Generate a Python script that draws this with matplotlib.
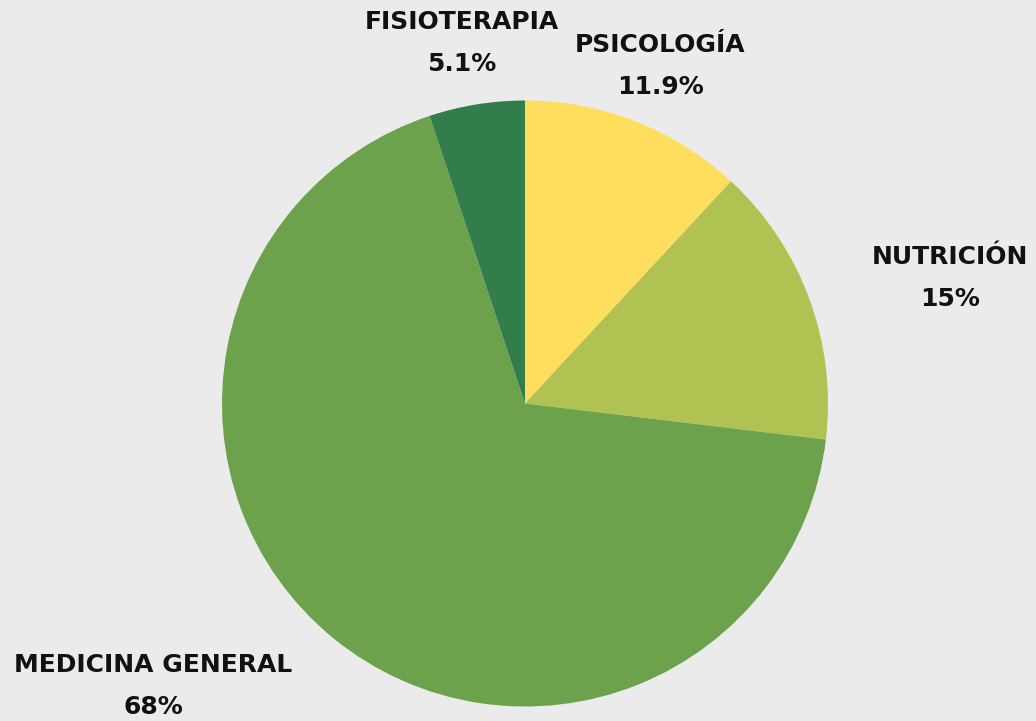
import matplotlib
matplotlib.use("Agg")
import matplotlib.pyplot as plt

# data, clockwise from 12 o'clock
Categories = ["PSICOLOGÍA", "NUTRICIÓN", "MEDICINA GENERAL", "FISIOTERAPIA"]
Values = [11.9, 15, 68, 5.1]
PctLabels = ["11.9%", "15%", "68%", "5.1%"]
Colors = ["#FEDE5C", "#B0C352", "#6BA24B", "#327E4B"]

# label centres in figure pixels (x, y from top)
LabelPos = [(660, 45), (950, 257), (153, 665), (462, 22)]

W, H = 1036, 721
Figure = plt.figure(figsize=(W / 100, H / 100), dpi=100)
Figure.patch.set_facecolor("#EBEBEB")

ax = Figure.add_axes([222 / W, 14 / H, 606 / W, 607 / H])
ax.pie(Values, colors=Colors, startangle=90, counterclock=False, radius=1,
       wedgeprops=dict(linewidth=0))
ax.set_xlim(-1, 1)
ax.set_ylim(-1, 1)
ax.set_aspect("equal")
ax.axis("off")

for Name, Pct, (x, y) in zip(Categories, PctLabels, LabelPos):
    Figure.text(x / W, 1 - y / H, Name, ha="center", va="center",
                fontsize=18, fontweight="bold", family="DejaVu Sans", color="#111111")
    Figure.text(x / W, 1 - (y + 42) / H, Pct, ha="center", va="center",
                fontsize=18, fontweight="bold", family="DejaVu Sans", color="#111111")

Figure.savefig("out.png", dpi=100, facecolor=Figure.get_facecolor())
